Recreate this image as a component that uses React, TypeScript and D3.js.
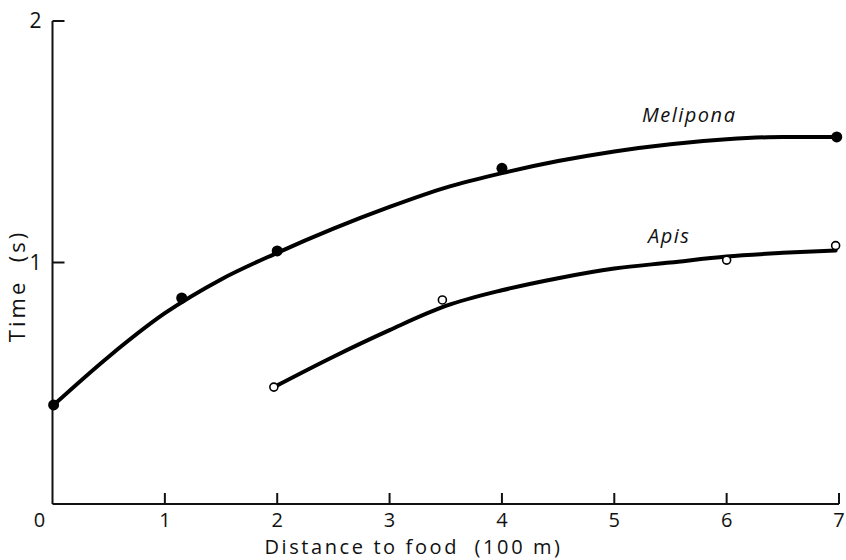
import React from "react";
import * as d3 from "d3";

const xTicks = [0, 1, 2, 3, 4, 5, 6, 7];
const yTicks = [1, 2];

const meliponaX = [0.01, 1.15, 2.0, 4.0, 6.98];
const meliponaY = [0.41, 0.853, 1.048, 1.39, 1.52];
const meliponaCurveX = [0.01, 0.5, 1, 1.5, 2, 2.5, 3, 3.5, 4, 4.5, 5, 5.5, 6, 6.5, 6.98];
const meliponaCurveY = [0.41, 0.61, 0.79, 0.93, 1.04, 1.14, 1.23, 1.31, 1.37, 1.42, 1.46, 1.49, 1.51, 1.52, 1.52];

const apisX = [1.97, 3.47, 6.0, 6.97];
const apisY = [0.484, 0.845, 1.01, 1.07];
const apisCurveX = [1.97, 2.5, 3, 3.5, 4, 4.5, 5, 5.5, 6, 6.5, 6.97];
const apisCurveY = [0.484, 0.61, 0.72, 0.82, 0.885, 0.935, 0.975, 1.0, 1.025, 1.04, 1.05];

const W = 846;
const H = 560;
const FONT = "'Open Sans', 'DejaVu Sans', sans-serif";

export default function App() {
  const x = d3.scaleLinear().domain([0, 7]).range([52.5, 839]);
  const y = d3.scaleLinear().domain([0, 2]).range([504, 21]);

  const line = d3
    .line<[number, number]>()
    .x((d) => x(d[0]))
    .y((d) => y(d[1]))
    .curve(d3.curveMonotoneX);

  const melCurve = line(meliponaCurveX.map((v, i) => [v, meliponaCurveY[i]]) as [number, number][]) || "";
  const apisCurve = line(apisCurveX.map((v, i) => [v, apisCurveY[i]]) as [number, number][]) || "";

  return (
    <div style={{ position: "fixed", left: 0, top: 0, width: W, height: H, background: "#fff" }}>
      <svg width={W} height={H} style={{ display: "block" }} fontFamily={FONT}>
        <rect width={W} height={H} fill="#fff" />
        {/* axes */}
        <line x1={x(0)} x2={x(0)} y1={y(2)} y2={y(0)} stroke="#111" strokeWidth={2} />
        <line x1={x(0)} x2={x(7)} y1={y(0)} y2={y(0)} stroke="#111" strokeWidth={2} />
        {yTicks.map((t) => (
          <g key={"yt" + t}>
            <line x1={x(0)} x2={x(0) + 12} y1={y(t)} y2={y(t)} stroke="#111" strokeWidth={2} />
            <text x={x(0) - 11} y={y(t)} dy="0.35em" textAnchor="end" fontSize={21} fill="#111">
              {t}
            </text>
          </g>
        ))}
        {xTicks.map((t) => (
          <g key={"xt" + t}>
            {t > 0 && (
              <line x1={x(t)} x2={x(t)} y1={y(0)} y2={y(0) - 11} stroke="#111" strokeWidth={2} />
            )}
            <text
              x={t === 0 ? x(t) - 13 : x(t)}
              y={y(0) + 23}
              textAnchor="middle"
              fontSize={20}
              fill="#111"
            >
              {t}
            </text>
          </g>
        ))}
        <text
          x={(258 + 569) / 2}
          y={554}
          textAnchor="middle"
          fontSize={20}
          letterSpacing={2.6}
          fill="#111"
          style={{ whiteSpace: "pre" }}
        >
          {"Distance to food  (100 m)"}
        </text>
        <text
          transform={`translate(25, 286) rotate(-90)`}
          textAnchor="middle"
          fontSize={22}
          letterSpacing={3}
          fill="#111"
          style={{ whiteSpace: "pre" }}
        >
          {"Time  (s)"}
        </text>

        {/* curves */}
        <path d={melCurve} fill="none" stroke="#000" strokeWidth={4} strokeLinecap="round" />
        <path d={apisCurve} fill="none" stroke="#000" strokeWidth={4} strokeLinecap="round" />

        {meliponaX.map((v, i) => (
          <circle key={"m" + i} cx={x(v)} cy={y(meliponaY[i])} r={5.5} fill="#000" />
        ))}
        {apisX.map((v, i) => (
          <circle
            key={"a" + i}
            cx={x(v)}
            cy={y(apisY[i])}
            r={4}
            fill="#fff"
            stroke="#000"
            strokeWidth={1.6}
          />
        ))}

        <text x={642} y={122} fontSize={20} fontStyle="italic" letterSpacing={1.5} fill="#111">
          Melipona
        </text>
        <text x={648} y={243} fontSize={20} fontStyle="italic" letterSpacing={1.5} fill="#111">
          Apis
        </text>
      </svg>
    </div>
  );
}
